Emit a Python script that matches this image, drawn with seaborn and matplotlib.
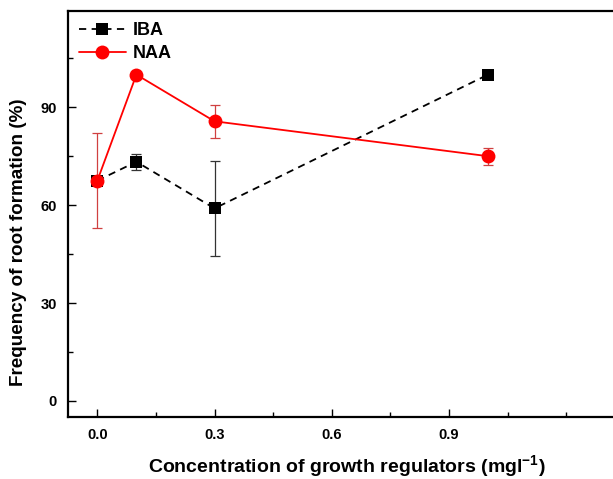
import numpy as np
import pandas as pd
import matplotlib
matplotlib.use('Agg')
import matplotlib.pyplot as plt
from matplotlib.ticker import MultipleLocator
import seaborn as sns

# values
conc = [0.0, 0.1, 0.3, 1.0]
iba_mean = [67.5, 73.3, 59.0, 100.0]
iba_err = [0.0, 2.5, 14.5, 0.8]
naa_mean = [67.5, 100.0, 85.7, 75.0]
naa_err = [14.5, 0.0, 5.0, 2.6]

df = pd.DataFrame({
    'conc': conc * 2,
    'freq': iba_mean + naa_mean,
    'err': iba_err + naa_err,
    'reg': ['IBA'] * 4 + ['NAA'] * 4,
})

sns.set_style('ticks')
plt.rcParams['font.family'] = ['Liberation Sans', 'DejaVu Sans']
plt.rcParams['font.weight'] = 'bold'
plt.rcParams['text.color'] = 'black'
plt.rcParams['axes.labelcolor'] = 'black'
plt.rcParams['xtick.color'] = 'black'
plt.rcParams['ytick.color'] = 'black'
plt.rcParams['axes.edgecolor'] = 'black'
plt.rcParams['mathtext.fontset'] = 'custom'
plt.rcParams['mathtext.rm'] = 'Liberation Sans:bold'
plt.rcParams['mathtext.bf'] = 'Liberation Sans:bold'

fig = plt.figure(figsize=(6.13, 4.79), dpi=100)
ax = fig.add_axes([0.111, 0.129, 0.889, 0.848])

colors = {'IBA': 'black', 'NAA': '#ff0000'}
ecolors = {'IBA': '#333333', 'NAA': '#d04040'}

for reg, d in df.groupby('reg'):
    ax.errorbar(d['conc'], d['freq'], yerr=d['err'], fmt='none',
                ecolor=ecolors[reg], elinewidth=0.9, capsize=3.5, capthick=0.9, zorder=2)

sns.lineplot(data=df, x='conc', y='freq', hue='reg', style='reg',
             palette=colors, markers={'IBA': 's', 'NAA': 'o'},
             dashes={'IBA': (4, 3), 'NAA': ''}, markersize=8,
             markeredgewidth=0, linewidth=1.3, ax=ax, zorder=3)

# circles a bit bigger than squares
for line in ax.get_lines():
    if line.get_marker() == 'o':
        line.set_markersize(10)

ax.set_xlim(-0.075, 1.32)
ax.set_ylim(-5, 119.5)
ax.xaxis.set_major_locator(MultipleLocator(0.3))
ax.xaxis.set_minor_locator(MultipleLocator(0.15))
ax.yaxis.set_major_locator(MultipleLocator(30))
ax.yaxis.set_minor_locator(MultipleLocator(15))
ax.set_xticks([0.0, 0.3, 0.6, 0.9])
ax.set_xticklabels(['0.0', '0.3', '0.6', '0.9'])
ax.tick_params(which='major', direction='in', length=6, width=1, labelsize=10.5, pad=8)
ax.tick_params(which='minor', direction='in', length=3.5, width=1)
for lab in ax.get_xticklabels() + ax.get_yticklabels():
    lab.set_fontweight('bold')

for s in ['left', 'top', 'bottom']:
    ax.spines[s].set_linewidth(1.6)
ax.spines['right'].set_visible(False)

ax.set_xlabel(r'Concentration of growth regulators (mgl$^{-1}$)',
              fontsize=14, fontweight='bold')
ax.set_ylabel('Frequency of root formation (%)', fontsize=13.6, fontweight='bold')
ax.xaxis.set_label_coords(0.512, -0.088)
ax.yaxis.set_label_coords(-0.075, 0.43)

leg = ax.legend(loc='upper left', frameon=False, fontsize=13, handlelength=2.6,
                borderaxespad=0.2, labelspacing=0.35, handletextpad=0.4,
                bbox_to_anchor=(0.0, 1.0))
for t in leg.get_texts():
    t.set_fontweight('bold')

fig.savefig('out.png', dpi=100)
